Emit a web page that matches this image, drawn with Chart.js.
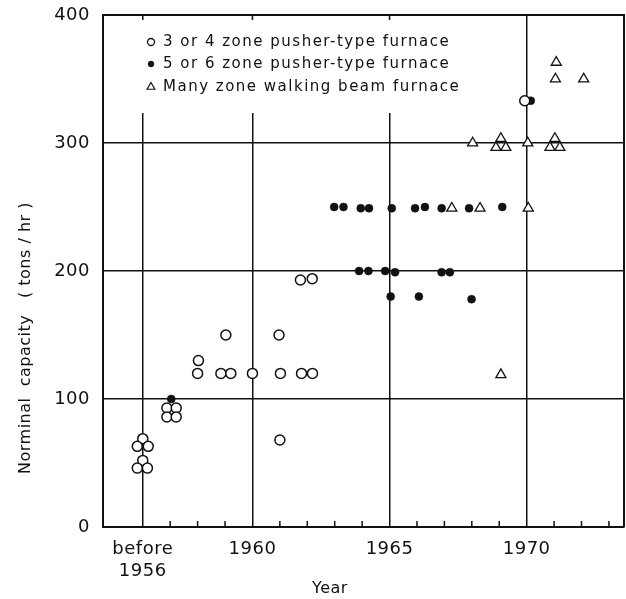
<!DOCTYPE html>
<html>
<head>
<meta charset="utf-8">
<script src="https://cdn.jsdelivr.net/npm/chart.js@4"></script>
<style>
  html, body { margin: 0; padding: 0; background: #fff; }
  #wrap { width: 626px; height: 599px; }
</style>
</head>
<body>
<div id="wrap"><canvas id="furnaceChart"></canvas></div>
<script>
// 3 or 4 zone pusher-type furnace (open circles)
const pusher34Years = [1956.0, 1955.8, 1956.2, 1956.0, 1955.8, 1956.17, 1956.88, 1957.22, 1956.88, 1957.22,
  1958.03, 1958.0, 1959.03, 1958.85, 1959.21, 1960.0, 1960.97, 1961.02, 1961.0, 1961.79, 1962.19,
  1961.75, 1962.18, 1969.93];
const pusher34Values = [69, 63, 63, 52, 46, 46, 93, 93, 86, 86,
  130, 120, 150, 120, 120, 120, 150, 120, 68, 120, 120,
  193, 194, 333];

// 5 or 6 zone pusher-type furnace (filled dots)
const pusher56Years = [1957.04, 1962.98, 1963.32, 1963.95, 1964.25, 1965.08, 1965.93, 1966.29, 1966.9, 1967.9,
  1969.11, 1963.89, 1964.23, 1964.84, 1965.2, 1966.9, 1967.2, 1965.04, 1966.07, 1967.99, 1970.15];
const pusher56Values = [100, 250, 250, 249, 249, 249, 249, 250, 249, 249,
  250, 200, 200, 200, 199, 199, 199, 180, 180, 178, 333];

// Many zone walking beam furnace (triangles)
const walkingYears = [1967.27, 1968.3, 1970.06, 1968.03, 1968.88, 1969.06, 1969.24, 1970.04, 1970.85, 1971.03,
  1971.21, 1969.06, 1971.08, 1971.05, 1972.08];
const walkingValues = [249, 249, 249, 300, 296.5, 303.5, 296.5, 300, 296.5, 303.5,
  296.5, 119, 363, 350, 350];

const legendLabels = ['3 or 4 zone pusher-type furnace', '5 or 6 zone pusher-type furnace', 'Many zone walking beam furnace'];
const tickYears = [1956, 1957, 1958, 1959, 1960, 1961, 1962, 1963, 1964, 1965, 1966, 1967, 1968, 1969, 1970, 1971, 1972, 1973];
const labelYears = [1956, 1960, 1965, 1970];
const labelTexts = [['before', '1956'], '1960', '1965', '1970'];
const yTickValues = [0, 100, 200, 300, 400];

const ink = '#111';
const clear = 'rgba(0,0,0,0)';
const family = '"DejaVu Sans", sans-serif';
const nbsp = '\u00a0';

const toPoints = (xs, ys) => xs.map((x, i) => ({ x: x, y: ys[i] }));

// legend inside the plot, frame on top/right and the small inward ticks
const frameAndLegend = {
  id: 'frameAndLegend',
  beforeDraw(chart) {
    chart.ctx.letterSpacing = '0.5px';
  },
  beforeDatasetsDraw(chart) {
    const { ctx, chartArea: a, scales: { x } } = chart;
    ctx.save();
    ctx.fillStyle = '#fff';
    ctx.fillRect(a.left + 1, a.top + 1, 372, 97);

    const styles = [
      { pointStyle: 'circle', radius: 3.5, fill: '#fff', width: 1.3 },
      { pointStyle: 'circle', radius: 3, fill: ink, width: 0.5 },
      { pointStyle: 'triangle', radius: 4.5, fill: '#fff', width: 1.2 }
    ];
    const rows = [27, 49, 72];
    ctx.font = '15px ' + family;
    ctx.letterSpacing = '1.5px';
    ctx.textBaseline = 'middle';
    ctx.textAlign = 'left';
    legendLabels.forEach((text, i) => {
      const s = styles[i];
      ctx.fillStyle = s.fill;
      ctx.strokeStyle = ink;
      ctx.lineWidth = s.width;
      Chart.helpers.drawPoint(ctx, { pointStyle: s.pointStyle, radius: s.radius, rotation: 0, borderWidth: s.width },
        a.left + 48, a.top + rows[i]);
      ctx.fillStyle = ink;
      ctx.fillText(text, a.left + 60, a.top + rows[i]);
    });

    ctx.strokeStyle = ink;
    ctx.lineWidth = 2;
    ctx.beginPath();
    ctx.moveTo(a.left, a.top);
    ctx.lineTo(a.right, a.top);
    ctx.lineTo(a.right, a.bottom);
    ctx.stroke();

    ctx.lineWidth = 1.5;
    ctx.beginPath();
    tickYears.forEach(yr => {
      if (labelYears.includes(yr)) return;
      const px = x.getPixelForValue(yr);
      ctx.moveTo(px, a.bottom);
      ctx.lineTo(px, a.bottom - 6);
    });
    [1956, 1960, 1965].forEach(yr => {
      const px = x.getPixelForValue(yr);
      ctx.moveTo(px, a.top);
      ctx.lineTo(px, a.top + 5);
    });
    ctx.stroke();
    ctx.restore();
  }
};

new Chart(document.getElementById('furnaceChart'), {
  type: 'scatter',
  data: {
    datasets: [
      {
        label: legendLabels[0],
        data: toPoints(pusher34Years, pusher34Values),
        pointStyle: 'circle',
        pointRadius: 5,
        pointHoverRadius: 5,
        pointBorderWidth: 1.5,
        pointBorderColor: ink,
        pointBackgroundColor: '#fff'
      },
      {
        label: legendLabels[1],
        data: toPoints(pusher56Years, pusher56Values),
        pointStyle: 'circle',
        pointRadius: 4,
        pointHoverRadius: 4,
        pointBorderWidth: 0.5,
        pointBorderColor: ink,
        pointBackgroundColor: ink
      },
      {
        label: legendLabels[2],
        data: toPoints(walkingYears, walkingValues),
        pointStyle: 'triangle',
        pointRadius: 5.8,
        pointHoverRadius: 5.8,
        pointBorderWidth: 1.3,
        pointBorderColor: ink,
        pointBackgroundColor: '#fff'
      }
    ]
  },
  options: {
    responsive: true,
    maintainAspectRatio: false,
    animation: false,
    layout: { autoPadding: false, padding: { left: 0, right: 2, top: 15, bottom: 0 } },
    plugins: {
      legend: { display: false },
      tooltip: { enabled: false }
    },
    scales: {
      x: {
        type: 'linear',
        min: 1954.55,
        max: 1973.55,
        afterBuildTicks: s => { s.ticks = tickYears.map(v => ({ value: v })); },
        afterFit: s => { s.height = 72; },
        ticks: {
          autoSkip: false,
          maxRotation: 0,
          padding: 0,
          color: ink,
          font: { family: family, size: 18 },
          callback: v => {
            const i = labelYears.indexOf(v);
            return i < 0 ? '' : labelTexts[i];
          }
        },
        grid: {
          drawTicks: true,
          tickLength: 12,
          tickColor: clear,
          lineWidth: 1.5,
          color: c => (c.tick && labelYears.includes(c.tick.value)) ? ink : clear
        },
        border: { color: ink, width: 2 },
        title: {
          display: true,
          text: 'Year' + nbsp.repeat(12),
          color: ink,
          font: { family: family, size: 16 },
          padding: { top: 0, bottom: 1 }
        }
      },
      y: {
        min: 0,
        max: 400,
        afterBuildTicks: s => { s.ticks = yTickValues.map(v => ({ value: v })); },
        afterFit: s => { s.width = 103; },
        ticks: {
          padding: 0,
          color: ink,
          font: { family: family, size: 18 }
        },
        grid: {
          drawTicks: true,
          tickLength: 13,
          tickColor: clear,
          lineWidth: 1.5,
          color: c => (c.tick && c.tick.value > 0 && c.tick.value < 400) ? ink : clear
        },
        border: { color: ink, width: 2 },
        title: {
          display: true,
          text: 'Norminal  capacity   ( tons / hr )' + nbsp.repeat(24),
          color: ink,
          font: { family: family, size: 16 },
          padding: { top: 16, bottom: 0 }
        }
      }
    }
  },
  plugins: [frameAndLegend]
});
</script>
</body>
</html>
